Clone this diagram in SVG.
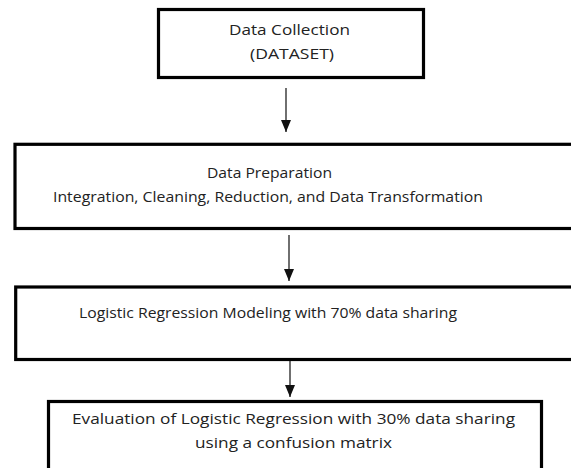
<svg xmlns="http://www.w3.org/2000/svg" width="571" height="468" viewBox="0 0 571 468">
<style>
.box{fill:#fff;stroke:#000;stroke-width:3.2}
.t{font-family:"Open Sans","Liberation Sans",sans-serif;font-size:15px;fill:#222;text-anchor:middle}
.c{stroke:#222;stroke-width:1.3;fill:none}
</style>
<defs>
<marker id="ah" markerWidth="12" markerHeight="10" refX="12" refY="5" orient="auto" markerUnits="userSpaceOnUse" viewBox="0 0 12 10">
<path d="M0,0 L12,5 L0,10 Z" fill="#111"/>
</marker>
</defs>
<rect width="571" height="468" fill="#fff"/>
<g id="connectors">
<line class="c" x1="286" y1="88" x2="286" y2="132" marker-end="url(#ah)"/>
<line class="c" x1="289" y1="235" x2="289" y2="281" marker-end="url(#ah)"/>
<line class="c" x1="290" y1="361" x2="290" y2="397" marker-end="url(#ah)"/>
</g>
<g id="node1">
<rect class="box" x="158.5" y="9.5" width="265" height="68"/>
<text class="t" x="289.5" y="35" textLength="121" lengthAdjust="spacingAndGlyphs">Data Collection</text>
<text class="t" x="292" y="59" textLength="84" lengthAdjust="spacingAndGlyphs">(DATASET)</text>
</g>
<g id="node2">
<rect class="box" x="15" y="144.3" width="600" height="84.2"/>
<text class="t" x="269.5" y="178" textLength="125" lengthAdjust="spacingAndGlyphs">Data Preparation</text>
<text class="t" x="268" y="202" textLength="430" lengthAdjust="spacingAndGlyphs">Integration, Cleaning, Reduction, and Data Transformation</text>
</g>
<g id="node3">
<rect class="box" x="15.7" y="287" width="600" height="72.5"/>
<text class="t" x="268" y="318" textLength="378" lengthAdjust="spacingAndGlyphs">Logistic Regression Modeling with 70% data sharing</text>
</g>
<g id="node4">
<rect class="box" x="48.5" y="401.5" width="493" height="80"/>
<text class="t" x="293.5" y="424" textLength="443" lengthAdjust="spacingAndGlyphs">Evaluation of Logistic Regression with 30% data sharing</text>
<text class="t" x="293.5" y="448" textLength="197" lengthAdjust="spacingAndGlyphs">using a confusion matrix</text>
</g>
</svg>
